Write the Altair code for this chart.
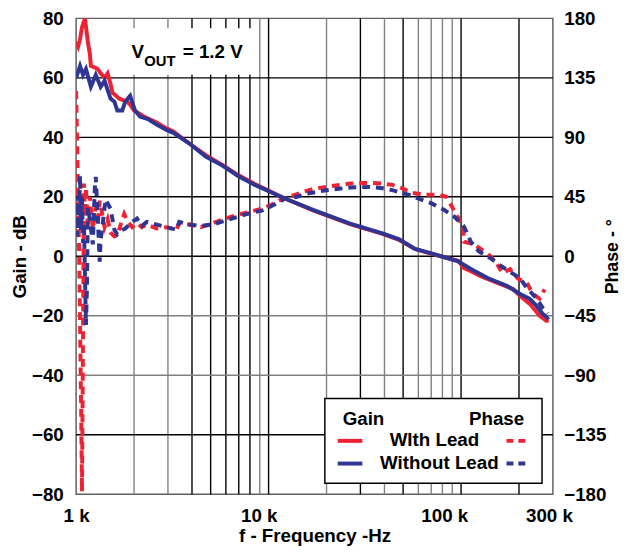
import altair as alt
import pandas as pd

# ---------------- data ----------------
gain_lead_f = [1000, 1024, 1048, 1073, 1112, 1151, 1179, 1193, 1250, 1295, 1341, 1406, 1457, 1509,
               1545, 1581, 1677, 1842, 1908, 2000, 2249, 2621, 2947, 3200, 3862, 4716, 5758, 6947,
               8484, 12067, 17165, 26512, 39060, 47710, 57570, 70300, 83840, 96540, 103590, 112460,
               126470, 154470, 186360, 202340, 227600, 256000, 277900, 285000]
gain_lead_db = [72, 70.5, 73, 77, 80, 72, 68, 64, 63.5, 63, 61.5, 60, 61.5, 58,
                55, 54.5, 53, 52, 51, 49, 47, 45, 43, 42, 38, 34, 30.7, 27.3,
                24.3, 19.5, 15.3, 10.8, 7.5, 5.5, 2.5, 0.8, -0.5, -1.5, -4, -5,
                -6.7, -9, -11, -13.3, -16, -20, -21.7, -21.5]

gain_nolead_f = [1000, 1048, 1086, 1125, 1193, 1265, 1341, 1406, 1509, 1581, 1637, 1737, 1800, 1908,
                 2024, 2146, 2386, 2621, 2947, 3200, 3862, 4716, 5758, 6947, 8484, 12067, 17165,
                 26512, 39060, 47710, 57570, 70300, 83840, 96540, 112460, 137340, 173740, 202340,
                 227600, 247200, 265200, 281200, 285000]
gain_nolead_db = [60, 64, 61, 63, 57, 61, 57, 59, 53, 52, 49, 49, 52, 54,
                  49, 47, 46, 44.3, 42.5, 41.5, 38, 33.5, 30.5, 27, 24, 19.5, 15.5,
                  11, 7.7, 5.7, 2.5, 1, -0.5, -1.7, -4.3, -7.3, -10, -12.7,
                  -14.3, -16.7, -19.3, -20.7, -20.3]

phase_lead_f = [1000, 1012, 1024, 1036, 1048, 1061, 1073, 1099, 1112, 1125, 1151, 1179, 1221, 1265,
                1295, 1326, 1406, 1457, 1509, 1581, 1637, 1778, 1842, 1954, 2072, 2197, 2330, 2621,
                2947, 3315, 3434, 3862, 4446, 5120, 5965, 6947, 8191, 9210, 10360, 11650, 12067,
                14060, 15267, 17165, 20960, 26512, 29820, 33540, 39060, 43950, 47710, 55570, 64750,
                76360, 83840, 86880, 94270, 102380, 103590, 116500, 137340, 150870, 163800, 179950,
                197640, 219720, 235800, 256000, 271500]
phase_lead_deg = [125, 85, 45, 5, -50, -110, -178, 55, 30, 52, 25, 45, 20, 38,
                  24, 42, 22, 28, 18, 15, 16, 32, 27, 22, 25, 22, 24, 21,
                  22, 20, 25, 24, 22, 25, 28.5, 31.5, 34, 36, 39, 43, 44,
                  47, 49, 51, 53, 55, 55.5, 55.5, 55, 54, 52.5, 48, 46.5,
                  46.5, 45, 41, 32, 22.5, 11, 9, 2, -3.75, -12.75, -9.75,
                  -17, -20, -28.5, -32, -25]

phase_nolead_f = [1000, 1012, 1024, 1036, 1048, 1061, 1073, 1086, 1099, 1112, 1125, 1138, 1151, 1179,
                  1221, 1250, 1265, 1295, 1326, 1341, 1423, 1509, 1581, 1637, 1737, 1800, 1954, 2072,
                  2197, 2330, 2621, 2947, 3315, 3434, 3862, 4446, 5120, 5965, 6947, 8191, 9210,
                  10360, 11650, 12067, 14060, 15267, 20000, 26512, 33540, 39060, 43950, 53670,
                  60350, 70300, 81910, 92100, 103590, 112460, 123550, 142240, 156300, 175800,
                  202340, 219720, 247200, 265200, 281200]
phase_nolead_deg = [40, 15, 45, 25, 61, 20, 45, 10, 25, -15, -52, -25, 37, 28,
                    9, 51, 60, 30, -4, 12, 43, 36, 20, 16.5, 20, 21, 26, 28.5,
                    23, 26, 24, 22, 20, 26, 24, 23, 24, 27, 30, 33, 34.5,
                    38, 42, 43.5, 45, 47, 50, 52, 52.5, 51.5, 50, 46.5,
                    43.5, 40, 35, 30, 22.5, 11, 3.75, -1.5, -6, -11,
                    -16.5, -24, -32, -39, -43.5]

x_grid_f = [2000, 3000, 4000, 5000, 6000, 7000, 8000, 9000, 10000,
            20000, 30000, 40000, 50000, 60000, 70000, 80000, 90000, 100000, 200000]
x_grid_color = ["#808080", "#808080", "#000000", "#000000", "#000000", "#000000", "#000000", "#808080", "#000000",
                "#808080", "#000000", "#808080", "#000000", "#808080", "#808080", "#808080", "#808080", "#000000", "#000000"]
y_grid_phase = [135, 90, 45, 0, -45, -90, -135]
y_grid_color = ["#000000", "#000000", "#000000", "#000000", "#808080", "#808080", "#000000"]

x_ticks = [1000, 10000, 100000, 300000]
gain_ticks = [-80, -60, -40, -20, 0, 20, 40, 60, 80]
phase_ticks = [-180, -135, -90, -45, 0, 45, 90, 135, 180]

RED = "#EE2233"
BLUE = "#2E3592"
FONT = "Liberation Sans"
FS = 19
LW = 4

# ---------------- encodings ----------------
x_axis = alt.Axis(values=x_ticks, labelExpr="datum.value / 1000 + ' k'", title="f - Frequency -Hz",
                  grid=False, ticks=False, domain=False, labelFlush=False, labelPadding=13,
                  labelOffset={"expr": "datum.value == 10000 ? -10 : datum.value == 100000 ? -17 : "
                                       "datum.value == 300000 ? -4 : 0"},
                  titlePadding=1)
x_scale = alt.Scale(type="log", domain=[1000, 300000], nice=False, zero=False)


def X(field):
    return alt.X(field, type="quantitative", scale=x_scale, axis=x_axis)


gain_axis = alt.Axis(values=gain_ticks, orient="left", title="Gain - dB", grid=False, ticks=False,
                     domain=False, labelPadding=13, titlePadding=2)
gain_scale = alt.Scale(domain=[-80, 80], nice=False, zero=False)
phase_axis = alt.Axis(values=phase_ticks, orient="right", title="Phase - °", grid=False, ticks=False,
                      domain=False, labelPadding=11, titlePadding=7, titleAngle=270,
                      titleBaseline="middle", titleFontSize=18, labelAlign="left")
phase_scale = alt.Scale(domain=[-180, 180], nice=False, zero=False)


def Yg(field):
    return alt.Y(field, type="quantitative", scale=gain_scale, axis=gain_axis)


def Yp(field):
    return alt.Y(field, type="quantitative", scale=phase_scale, axis=phase_axis)


one = pd.DataFrame({"k": [0]})

# ---------------- phase group (with grid and boxes) ----------------
vgrid = alt.Chart(pd.DataFrame({"f": x_grid_f, "c": x_grid_color})).mark_rule(strokeWidth=1.4).encode(
    x=X("f"), color=alt.Color("c:N", scale=None))
hgrid = alt.Chart(pd.DataFrame({"p": y_grid_phase, "c": y_grid_color})).mark_rule(strokeWidth=1.4).encode(
    y=Yp("p"), color=alt.Color("c:N", scale=None))

vout_box = alt.Chart(one).mark_rect(fill="white", stroke=None).encode(
    x=alt.value(25), x2=alt.value(179), y=alt.value(10), y2=alt.value(57))

ph_lead = alt.Chart(pd.DataFrame({"f": phase_lead_f, "p": phase_lead_deg})).mark_line(
    color=RED, strokeWidth=LW, strokeDash=[8, 6], clip=True).encode(x=X("f"), y=Yp("p"))
ph_nolead = alt.Chart(pd.DataFrame({"f": phase_nolead_f, "p": phase_nolead_deg})).mark_line(
    color=BLUE, strokeWidth=LW, strokeDash=[8, 6], clip=True).encode(x=X("f"), y=Yp("p"))

phase_group = alt.layer(vgrid, hgrid, vout_box, ph_lead, ph_nolead)

# ---------------- gain group (with annotations) ----------------
g_lead = alt.Chart(pd.DataFrame({"f": gain_lead_f, "g": gain_lead_db})).mark_line(
    color=RED, strokeWidth=LW, clip=True).encode(x=X("f"), y=Yg("g"))
g_nolead = alt.Chart(pd.DataFrame({"f": gain_nolead_f, "g": gain_nolead_db})).mark_line(
    color=BLUE, strokeWidth=LW, clip=True).encode(x=X("f"), y=Yg("g"))


def txt(s, x, y, size=FS, align="left"):
    return alt.Chart(one).mark_text(text=s, font=FONT, fontWeight="bold", fontSize=size,
                                    align=align, baseline="alphabetic", color="black").encode(
        x=alt.value(x), y=alt.value(y))


def sample(x1, x2, y, color, dash=None):
    kw = dict(color=color, strokeWidth=LW)
    if dash:
        kw["strokeDash"] = dash
    return alt.Chart(one).mark_rule(**kw).encode(x=alt.value(x1), x2=alt.value(x2), y=alt.value(y))


legend_box = alt.Chart(one).mark_rect(fill="white", stroke="black", strokeWidth=1.5).encode(
    x=alt.value(252), x2=alt.value(472), y=alt.value(385), y2=alt.value(471))

annotations = [
    txt("V", 56, 40), txt("OUT", 69, 48, size=15), txt("= 1.2 V", 108, 40),
    legend_box,
    txt("Gain", 270, 412), txt("Phase", 398, 412),
    txt("WIth Lead", 363, 433, align="center"), txt("Without Lead", 368, 456, align="center"),
    sample(265, 290, 428, RED), sample(436, 458, 428, RED, [7, 5]),
    sample(265, 290, 451, BLUE), sample(436, 458, 451, BLUE, [7, 5]),
]

gain_group = alt.layer(g_lead, g_nolead, *annotations)

chart = alt.layer(phase_group, gain_group).resolve_scale(y="independent").properties(
    width=483, height=482,
    autosize=alt.AutoSizeParams(type="none"),
    padding={"left": 69, "top": 7, "right": 69, "bottom": 49},
).configure_view(stroke="#606060", strokeWidth=1.5).configure_axis(
    labelFont=FONT, labelFontSize=FS, labelFontWeight="bold", labelColor="black",
    titleFont=FONT, titleFontSize=FS, titleFontWeight="bold", titleColor="black",
)

chart.save("out.html", embed_options={"renderer": "svg", "actions": False})
